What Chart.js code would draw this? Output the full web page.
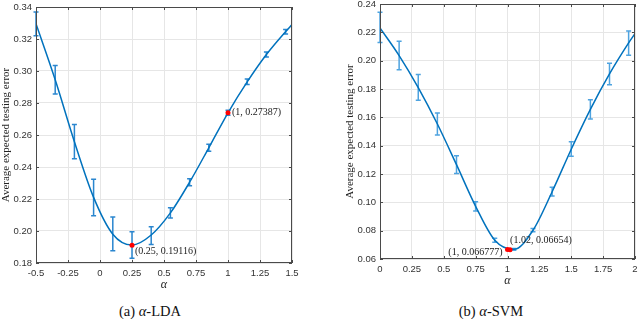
<!DOCTYPE html>
<html>
<head>
<meta charset="utf-8">
<script src="https://cdn.jsdelivr.net/npm/chart.js@4.4.1/dist/chart.umd.min.js"></script>
<style>
  body { margin: 0; background: #fff; }
  #wrap { position: relative; width: 640px; height: 319px; overflow: hidden; }
  canvas { position: absolute; top: 0; }
  .cap { position: absolute; top: 303px; font-family: "Liberation Serif", "Times New Roman", serif;
         font-size: 14.5px; color: #111; white-space: nowrap; transform: translateX(-50%); }
</style>
</head>
<body>
<div id="wrap">
  <canvas id="lda" width="320" height="293" style="left:0"></canvas>
  <canvas id="svm" width="296" height="289" style="left:344px"></canvas>
  <div class="cap" style="left:150px">(a) <i>α</i>-LDA</div>
  <div class="cap" style="left:491px">(b) <i>α</i>-SVM</div>
</div>
<script>
// ---- alpha-LDA ----
const ldaAlpha = [-0.5, -0.35, -0.2, -0.05, 0.1, 0.25, 0.4, 0.55, 0.7, 0.85, 1.0, 1.15, 1.3, 1.45];
const ldaMean  = [0.3295, 0.2945, 0.2558, 0.221, 0.198, 0.1912, 0.1975, 0.2113, 0.2305, 0.252, 0.2739, 0.2932, 0.3103, 0.3246];
const ldaLow   = [0.3221, 0.2856, 0.2452, 0.2096, 0.1877, 0.1829, 0.1915, 0.2081, 0.2283, 0.2498, 0.2724, 0.2915, 0.3088, 0.3231];
const ldaHigh  = [0.3369, 0.3035, 0.2665, 0.2323, 0.2088, 0.1996, 0.2027, 0.2146, 0.2327, 0.2542, 0.2754, 0.2950, 0.3119, 0.3260];
const ldaFitX  = [...ldaAlpha, 1.5];
const ldaFitY  = [...ldaMean, 0.329];
const ldaMarkX = [0.25, 1];
const ldaMarkY = [0.19116, 0.27387];
const ldaXTicks = [-0.5, 1.5, 0.25];   // min, max, step
const ldaYTicks = [0.18, 0.34, 0.02];

// ---- alpha-SVM ----
const svmAlpha = [0, 0.15, 0.3, 0.45, 0.6, 0.75, 0.9, 1.05, 1.2, 1.35, 1.5, 1.65, 1.8, 1.95];
const svmMean  = [0.2231, 0.2036, 0.181, 0.1553, 0.1266, 0.0972, 0.0733, 0.0668, 0.0803, 0.1075, 0.1375, 0.1656, 0.1906, 0.2125];
const svmLow   = [0.2128, 0.1936, 0.172, 0.1476, 0.1204, 0.0939, 0.0719, 0.0662, 0.0792, 0.1045, 0.1326, 0.1588, 0.183, 0.2039];
const svmHigh  = [0.2341, 0.2137, 0.1903, 0.1631, 0.1328, 0.1005, 0.0747, 0.0674, 0.0815, 0.1106, 0.1427, 0.1725, 0.1982, 0.221];
const svmFitX  = [...svmAlpha, 2];
const svmFitY  = [...svmMean, 0.2191];
const svmMarkX = [1, 1.02];
const svmMarkY = [0.066777, 0.06654];
const svmXTicks = [0, 2, 0.25];
const svmYTicks = [0.06, 0.24, 0.02];

const tickFont = { family: "'Liberation Sans', Arial, sans-serif", size: 9.5 };
const serif = "'Liberation Serif', 'Times New Roman', serif";

// error bars, box and data tips
const decor = {
  id: "decor",
  beforeDatasetsDraw(chart) {
    const o = chart.options.plugins.decor;
    const { ctx, scales: { x, y } } = chart;
    ctx.save();
    ctx.strokeStyle = o.barColor;
    ctx.lineWidth = 1.5;
    o.ex.forEach((v, i) => {
      const px = x.getPixelForValue(v);
      const lo = y.getPixelForValue(o.lo[i]);
      const hi = y.getPixelForValue(o.hi[i]);
      ctx.beginPath();
      ctx.moveTo(px, lo); ctx.lineTo(px, hi);
      ctx.moveTo(px - 2.5, lo); ctx.lineTo(px + 2.5, lo);
      ctx.moveTo(px - 2.5, hi); ctx.lineTo(px + 2.5, hi);
      ctx.stroke();
    });
    ctx.restore();
  },
  afterDraw(chart) {
    const o = chart.options.plugins.decor;
    const { ctx, chartArea: a, scales: { x, y } } = chart;
    ctx.save();
    ctx.strokeStyle = "#4a4a4a";
    ctx.lineWidth = 1;
    ctx.strokeRect(Math.round(a.left) + 0.5, Math.round(a.top) + 0.5,
                   Math.round(a.right - a.left) - 1, Math.round(a.bottom - a.top) - 1);
    ctx.beginPath();
    x.ticks.forEach(t => {
      const px = Math.round(x.getPixelForValue(t.value)) + 0.5;
      ctx.moveTo(px, a.bottom); ctx.lineTo(px, a.bottom - 3);
      ctx.moveTo(px, a.top); ctx.lineTo(px, a.top + 3);
    });
    y.ticks.forEach(t => {
      const py = Math.round(y.getPixelForValue(t.value)) + 0.5;
      ctx.moveTo(a.left, py); ctx.lineTo(a.left + 3, py);
      ctx.moveTo(a.right, py); ctx.lineTo(a.right - 3, py);
    });
    ctx.stroke();

    ctx.fillStyle = "#1a1a1a";
    ctx.font = "10px " + serif;
    ctx.textBaseline = "middle";
    o.tipX.forEach((v, i) => {
      const [dx, dy, align] = o.tipPos[i];
      ctx.textAlign = align;
      ctx.fillText(`(${v}, ${o.tipY[i]})`, x.getPixelForValue(v) + dx, y.getPixelForValue(o.tipY[i]) + dy);
    });
    ctx.restore();
  }
};

function makeChart(id, d) {
  return new Chart(document.getElementById(id), {
    type: "scatter",
    data: {
      datasets: [
        {
          data: d.markX.map((v, i) => ({ x: v, y: d.markY[i] })),
          backgroundColor: "#ff0000", borderWidth: 0, pointRadius: 2.5, showLine: false, order: 0
        },
        {
          data: d.fitX.map((v, i) => ({ x: v, y: d.fitY[i] })),
          showLine: true, borderColor: "#0072BD", borderWidth: 1.5, pointRadius: 0,
          cubicInterpolationMode: "monotone", order: 1
        }
      ]
    },
    options: {
      responsive: false,
      animation: false,
      layout: { padding: d.pad },
      plugins: {
        legend: { display: false },
        tooltip: { enabled: false },
        decor: {
          ex: d.ex, lo: d.lo, hi: d.hi, barColor: d.barColor,
          tipX: d.markX, tipY: d.markY, tipPos: d.tipPos
        }
      },
      scales: {
        x: {
          type: "linear", min: d.xt[0], max: d.xt[1],
          afterFit: s => { s.height = 30; s.paddingLeft = 0; s.paddingRight = 0; },
          ticks: {
            stepSize: d.xt[2], padding: 5, maxRotation: 0, autoSkip: false,
            font: tickFont, color: "#333", callback: v => String(+v.toFixed(2))
          },
          grid: { color: "#e6e6e6", drawTicks: false },
          border: { display: false },
          title: { display: true, text: "α", padding: { top: 0, bottom: 1 },
                   font: { family: serif, size: 12, style: "italic" }, color: "#222" }
        },
        y: {
          min: d.yt[0], max: d.yt[1],
          afterFit: s => { s.width = 36; s.paddingTop = 0; s.paddingBottom = 0; },
          ticks: { stepSize: d.yt[2], padding: 4, font: tickFont, color: "#333",
                   callback: v => v.toFixed(2) },
          grid: { color: "#e6e6e6", drawTicks: false },
          border: { display: false },
          title: { display: true, text: "Average expected testing error", padding: 0,
                   font: { family: serif, size: 11 }, color: "#222" }
        }
      }
    },
    plugins: [decor]
  });
}

makeChart("lda", {
  ex: ldaAlpha, lo: ldaLow, hi: ldaHigh, fitX: ldaFitX, fitY: ldaFitY,
  markX: ldaMarkX, markY: ldaMarkY, xt: ldaXTicks, yt: ldaYTicks,
  barColor: "#2a86cf", pad: { left: 0, top: 7, right: 28, bottom: 0 },
  tipPos: [[3, 6, "left"], [4, 0, "left"]]
});

makeChart("svm", {
  ex: svmAlpha, lo: svmLow, hi: svmHigh, fitX: svmFitX, fitY: svmFitY,
  markX: svmMarkX, markY: svmMarkY, xt: svmXTicks, yt: svmYTicks,
  barColor: "#4ea3e0", pad: { left: 0, top: 3, right: 5, bottom: 0 },
  tipPos: [[-5, 3, "right"], [0, -9, "left"]]
});
</script>
</body>
</html>
